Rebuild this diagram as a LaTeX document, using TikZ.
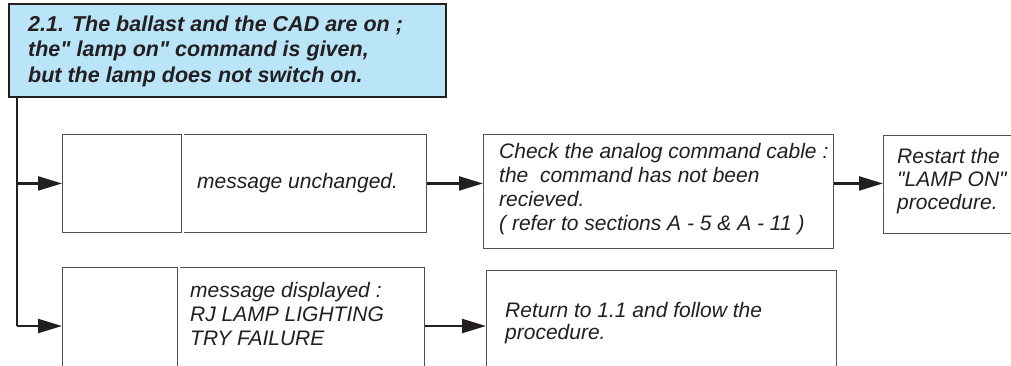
\documentclass[tikz,border=0pt]{standalone}
\usepackage{fontspec}
\setmainfont{Liberation Sans}[Ligatures=TeXOff]
\usetikzlibrary{arrows.meta,calc}
\definecolor{ink}{HTML}{231F20}
\definecolor{boxline}{HTML}{505050}
\definecolor{titlefill}{HTML}{BAE4F8}
\begin{document}
\begin{tikzpicture}[x=1pt,y=-1pt,
  boxstyle/.style={draw=boxline,line width=0.9pt,anchor=north west,inner sep=0pt,fill=white},
  titlebox/.style={draw=ink,line width=1.6pt,fill=titlefill,anchor=north west,inner sep=0pt},
  txt/.style={text=ink,font=\itshape\fontsize{21}{24}\selectfont,align=left,inner sep=0pt,anchor=north west},
  ttxt/.style={text=ink,font=\bfseries\itshape\fontsize{21.5}{25.5}\selectfont,align=left,inner sep=0pt,anchor=north west},
  arr/.style={draw=ink,line width=2.3pt,-{Triangle[length=24pt,width=14pt]}},
  trunkline/.style={draw=ink,line width=2.3pt},
  dbl/.style={draw=boxline,double=white,double distance=2pt,line width=0.7pt}]
\useasboundingbox (0,0) rectangle (1011,365);
\clip (0,0) rectangle (1011,365);
% title
\node[titlebox,minimum width=437pt,minimum height=93pt] (title) at (8,3) {};
\node[ttxt] (titletext) at (28,15.5) {2.1. The ballast and the CAD are on ;\\the" lamp on" command is given,\\but the lamp does not switch on.};
% row 1
\node[boxstyle,minimum width=364pt,minimum height=98pt] (b1) at (62,134) {};
\draw[dbl] ([xshift=120.5pt]b1.north west) -- ([xshift=120.5pt]b1.south west);
\node[txt,anchor=base west] (b1text) at (197,188) {message unchanged.};
\node[boxstyle,minimum width=350pt,minimum height=114pt] (c1) at (483,134) {};
\node[txt,font=\itshape\fontsize{21}{24}\selectfont] (c1text) at (499,143) {Check the analog command cable :\\the\ \ command has not been\\recieved.\\( refer to sections A - 5 \& A - 11 )};
\node[boxstyle,minimum width=200pt,minimum height=98pt] (r1) at (883,135) {};
\node[txt,font=\itshape\fontsize{21}{23}\selectfont] (r1text) at (897,147.7) {Restart the\\"LAMP ON"\\procedure.};
% row 2
\node[boxstyle,minimum width=362pt,minimum height=140pt] (b2) at (62,267) {};
\draw[dbl] ([xshift=116.5pt]b2.north west) -- ([xshift=116.5pt]b2.south west);
\node[txt] (b2text) at (190,281.7) {message displayed :\\RJ LAMP LIGHTING\\TRY FAILURE};
\node[boxstyle,minimum width=350pt,minimum height=140pt] (c2) at (486,270) {};
\node[txt,font=\itshape\fontsize{21}{22}\selectfont] (c2text) at (505,301.7) {Return to 1.1 and follow the\\procedure.};
% connectors
\coordinate (trunk) at (17,96);
\coordinate (j2) at (17,326);
\draw[trunkline] (trunk) -- (j2);
\draw[arr] (trunk |- b1.west) -- (b1.west);
\draw[arr] (j2) -- (j2 -| b2.west);
\draw[arr] (b1.east) -- (b1.east -| c1.west);
\draw[arr] (b1.east -| c1.east) -- (b1.east -| r1.west);
\draw[arr] (j2 -| b2.east) -- (j2 -| c2.west);
\end{tikzpicture}
\end{document}
